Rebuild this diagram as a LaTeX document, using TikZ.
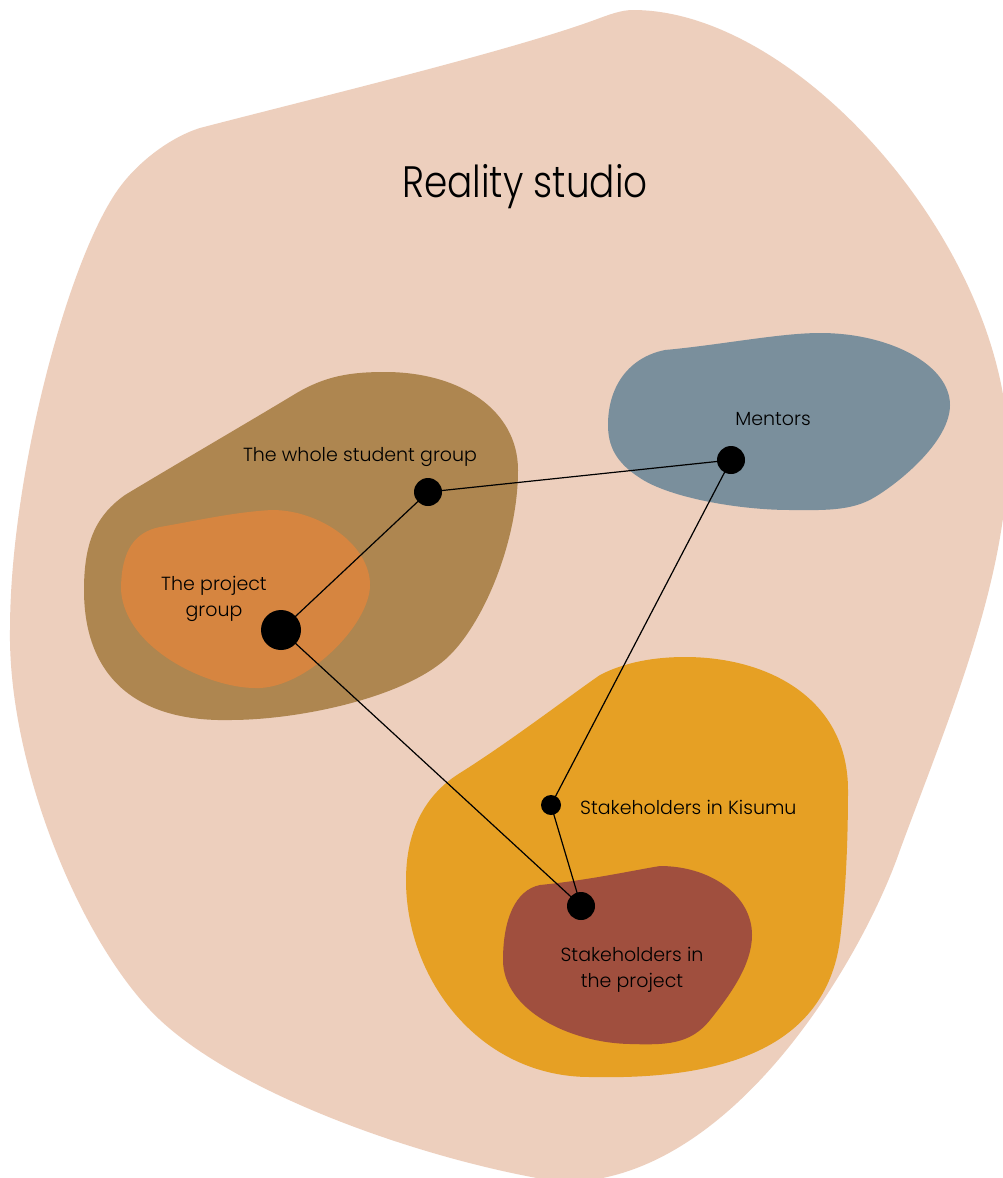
\documentclass[tikz,border=0pt]{standalone}
\usepackage{fontspec}
\setmainfont{Poppins Light}
\definecolor{peach}{HTML}{EDCFBD}
\definecolor{brownish}{HTML}{AE8650}
\definecolor{orangeish}{HTML}{D68540}
\definecolor{bluegrey}{HTML}{7A8F9C}
\definecolor{gold}{HTML}{E6A024}
\definecolor{rust}{HTML}{A04F3E}
\begin{document}
\begin{tikzpicture}[x=1pt,y=-1pt,
  dotnode/.style={circle,fill=black,inner sep=0pt},
  conn/.style={draw=black,line width=1.2pt},
  lbl/.style={font=\fontsize{19}{26}\selectfont,align=center,inner sep=0pt},
]
\useasboundingbox (0,0) rectangle (1003,1178);
\clip (0,0) rectangle (1003,1178);
\fill[white] (0,0) rectangle (1003,1178);
% background blob
\fill[peach] (633,10)
  .. controls (800,10) and (1008,250) .. (1008,450)
  .. controls (1008,580) and (948,720) .. (900,850)
  .. controls (862,960) and (730,1185) .. (560,1182)
  .. controls (420,1160) and (225,1090) .. (150,1010)
  .. controls (75,930) and (8,760) .. (10,630)
  .. controls (10,480) and (66,265) .. (117,191)
  .. controls (137,162) and (171,137) .. (200,128)
  .. controls (315,98) and (515,50) .. (600,18)
  .. controls (611,14) and (622,10) .. cycle;
% brown blob
\fill[brownish] (385,372)
  .. controls (460,372) and (518,410) .. (518,470)
  .. controls (518,540) and (485,620) .. (450,655)
  .. controls (408,697) and (300,720) .. (230,720)
  .. controls (140,722) and (84,680) .. (84,590)
  .. controls (84,540) and (97,515) .. (125,495)
  .. controls (168,469) and (252,420) .. (295,394)
  .. controls (325,376) and (350,372) .. cycle;
% orange blob
\fill[orangeish] (272,510)
  .. controls (320,510) and (370,545) .. (370,585)
  .. controls (370,625) and (305,690) .. (255,688)
  .. controls (210,688) and (125,650) .. (121,590)
  .. controls (121,550) and (135,532) .. (160,527)
  .. controls (200,520) and (235,512) .. cycle;
% blue blob
\fill[bluegrey] (820,333)
  .. controls (890,333) and (950,365) .. (950,405)
  .. controls (950,440) and (903,480) .. (875,497)
  .. controls (851,512) and (820,510) .. (790,510)
  .. controls (740,510) and (670,498) .. (640,478)
  .. controls (615,462) and (608,445) .. (608,425)
  .. controls (608,385) and (630,357) .. (665,350)
  .. controls (720,345) and (780,333) .. cycle;
% gold blob
\fill[gold] (685,657)
  .. controls (770,657) and (848,700) .. (848,790)
  .. controls (848,850) and (845,900) .. (840,940)
  .. controls (825,1050) and (720,1080) .. (590,1077)
  .. controls (480,1077) and (406,980) .. (406,880)
  .. controls (406,820) and (434,789) .. (460,773)
  .. controls (511,741) and (575,692) .. (600,675)
  .. controls (625,662) and (655,657) .. cycle;
% rust blob
\fill[rust] (660,866)
  .. controls (710,866) and (752,895) .. (752,935)
  .. controls (752,965) and (730,995) .. (710,1020)
  .. controls (690,1045) and (665,1045) .. (630,1044)
  .. controls (570,1043) and (503,1010) .. (503,960)
  .. controls (503,920) and (515,890) .. (540,885)
  .. controls (590,880) and (635,870) .. cycle;

\node[font=\fontsize{44}{50}\selectfont,inner sep=0pt] (title) at (525,187) {\scalebox{0.85}[1]{Reality studio}};

\node[dotnode,minimum size=40pt] (pg) at (281,630) {};
\node[dotnode,minimum size=28pt] (wsg) at (428,492) {};
\node[dotnode,minimum size=28pt] (men) at (731,460) {};
\node[dotnode,minimum size=20pt] (kis) at (551,805) {};
\node[dotnode,minimum size=28pt] (sip) at (581,906) {};

\draw[conn] (pg.center) -- (wsg.center);
\draw[conn] (wsg.center) -- (men.center);
\draw[conn] (men.center) -- (kis.center);
\draw[conn] (kis.center) -- (sip.center);
\draw[conn] (pg.center) -- (sip.center);

\node[lbl] (wsgl) at (360,457) {The whole student group};
\node[lbl] (menl) at (773,419) {Mentors};
\node[lbl] (pgl) at (214,599) {The project\\group};
\node[lbl,anchor=west] (kisl) at (580,807) {Stakeholders in Kisumu};
\node[lbl] (sipl) at (632,970) {Stakeholders in\\the project};
\end{tikzpicture}
\end{document}
